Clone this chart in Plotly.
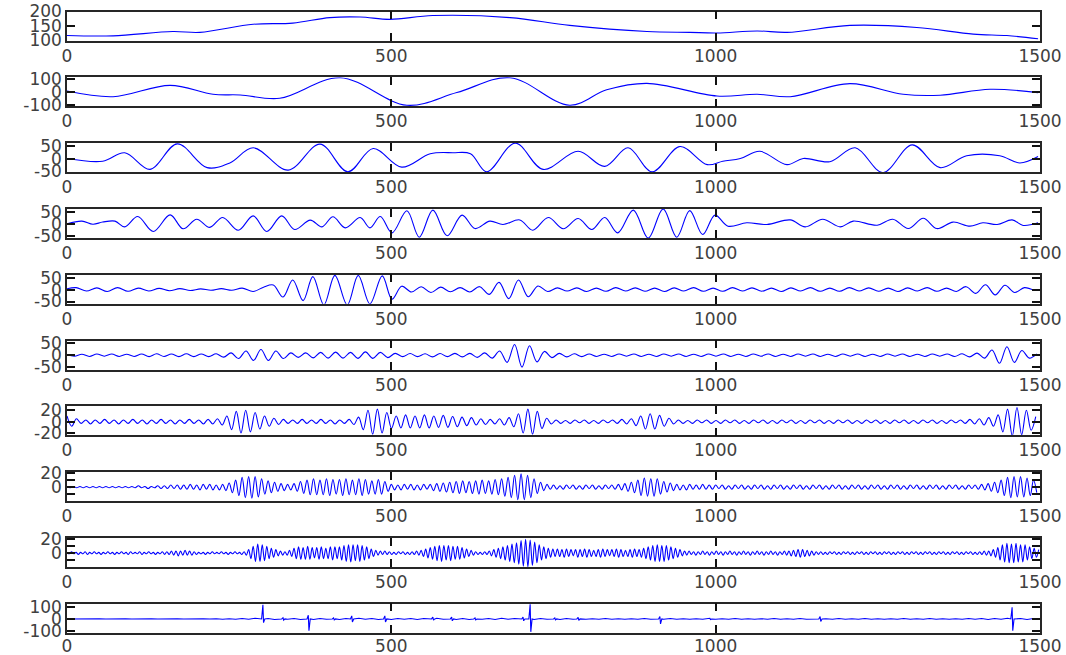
import plotly.graph_objects as go

# ---------------- data ----------------
x_tick_vals = [0, 500, 1000, 1500]

# panel 1 : residual / trend
p1_x = [0, 71, 163, 205, 287, 348, 405, 452, 498, 564, 683, 775, 894, 960, 1002, 1064, 1110, 1207, 1310, 1397, 1449, 1497]
p1_y = [117, 116, 131, 128, 156, 160, 179, 181, 173, 186, 179, 152, 131, 128, 126, 133, 128, 152, 145, 122, 117, 106]

# panel 2
p2_x = [0, 71, 159, 225, 267, 328, 421, 524, 601, 683, 775, 832, 894, 1002, 1064, 1115, 1207, 1289, 1346, 1423, 1497]
p2_y = [6, -37, 49, -19, -24, -49, 107, -102, -6, 107, -102, 15, 64, -32, -19, -37, 62, -19, -26, 19, -6]

# panel 3
p3_x = [0, 55, 89, 128, 170, 216, 251, 287, 341, 390, 433, 472, 516, 560, 595, 622, 647, 691, 734, 788, 829, 865, 902,
        945, 987, 1011, 1038, 1068, 1110, 1135, 1176, 1215, 1258, 1303, 1346, 1387, 1438, 1469, 1497]
p3_y = [1, -10, 24, -43, 60, -36, -17, 44, -46, 59, -53, 41, -34, 20, 24, 20, -53, 63, -43, 30, -31, 44, -53,
        49, -24, -10, 1, 30, -24, 1, -12, 44, -56, 56, -36, 12, 12, -17, 9]

# panel 4
p4_x = [0, 23, 40, 55, 74, 89, 109, 133, 159, 179, 200, 220, 240, 264, 287, 308, 331, 351, 375, 393, 410, 429, 452,
        467, 483, 501, 524, 543, 564, 586, 609, 629, 652, 672, 698, 718, 742, 765, 788, 809, 829, 849, 873, 896,
        919, 940, 960, 980, 999, 1019, 1048, 1079, 1115, 1138, 1165, 1192, 1212, 1249, 1273, 1297, 1320, 1341,
        1366, 1392, 1412, 1434, 1457, 1474, 1497]
p4_y = [0, 11, -2, 7, 11, -13, 30, -32, 37, -21, 19, -15, 26, -27, 33, -32, 33, -24, 15, -13, 29, -17, 26,
        -17, 30, -38, 54, -56, 57, -50, 36, -20, 11, -3, 16, -27, 26, -21, 22, -24, 26, -38, 57, -60,
        62, -56, 55, -45, 36, -10, 4, -3, 16, -13, 19, -13, 11, -6, 19, -20, 23, -20,
        7, -10, 4, -3, 16, -7, 4]

# panel 5 (first half with explicit sample indices, then a regular index grid)
p5_x = [0, 14, 30, 46, 62, 78, 94, 110, 126, 142, 158, 174, 190, 206, 222, 238, 254, 270, 287, 303, 318, 333, 348,
        364, 379, 396, 413, 432, 449, 467, 486, 501]
p5_y = [3, 8, -6, 7, -8, 8, -7, 6, -6, 5, -5, 4, -4, 3, -3, 4, -3, 6, -8, 10, 19, -31, 40,
        -46, 54, -64, 59, -64, 59, -60, 57, -40]
p5b_start, p5b_step = 516, 15
p5b_y = [14, -10, 12, -12, 10, -9, 8, -10, 12, -20, 30, -38, 40, -30, 15, -8,
         7, -6, 7, -8, 6, -7, 8, -6, 7, -7, 6, -8, 7, -6, 8, -7, 6, -7, 8, -6,
         7, -7, 6, -8, 7, -6, 8, -7, 6, -7, 8, -6, 7, -7, 6, -8, 7, -6, 8, -7,
         6, -8, 12, -16, 20, -22, 18, -12, 8, -4]

# panel 6 : successive extrema on a regular index grid
p6_start, p6_step = 0, 11.5
p6_y = [2, -4, 4, -5, 5, -4, 5, -5, 4, -5, 5, -6, 6, -5, 5, -6, 6, -6, 5, -6, 6,
        -8, 10, -14, 18, -22, 24, -22, 18, -14,
        10, -9, 10, -11, 12, -12, 13, -12, 12, -13, 14, -13, 12, -10,
        8, -6, 7, -6, 6, -7, 7, -6, 8, -7, 8, -9, 10, -12,
        18, -30, 45, -50, 40, -28,
        16, -10, 8, -7, 6, -6, 5,
        -5, 4, -5, 5, -4, 5, -5, 4, -5, 5, -4, 5, -5, 4, -5, 5, -4, 5, -5, 4,
        -5, 5, -4, 5, -5, 4, -5, 5, -4, 5, -5, 4, -5, 5, -4, 5, -5, 4, -5, 5,
        -4, 5, -5, 4, -5, 5, -4, 5, -5, 6, -7, 9,
        -12, 22, -34, 36, -30, 20, -12, 6]

# panel 7
p7_start, p7_step = 0, 7.25
p7_y = [10, -8, 5,
        -3, 3, -4, 3, -3, 4, -3, 3, -4, 3, -3, 4, -3, 3, -4, 3, -3, 4, -3, 3, -4, 3, -3, 4, -3, 3, -4, 4, -4, 5,
        -6, 10, -14, 18, -20, 20, -18, 16, -13, 10, -8, 6, -5, 4,
        -3, 3, -3, 4, -3, 3, -3, 4, -3, 3, -4, 3, -3, 4, -5,
        8, -14, 20, -22, 22, -20, 16, -12,
        10, -11, 12, -11, 10, -11, 12, -11, 10, -10, 11, -10, 9, -9, 8, -7, 7, -6, 5, -5, 4, -4, 5, -6, 7, -9,
        14, -20, 22, -22, 18, -12, 6,
        -4, 3, -3, 2, -3, 3, -2, 3, -3, 2, -3, 3, -2, 3, -3, 4, -4, 5,
        -7, 10, -13, 14, -13, 11, -8, 6, -4,
        3, -3, 2, -3, 3, -2, 3, -3, 2, -3, 3, -2, 3, -3, 2, -3, 3, -2, 3, -3,
        2, -3, 3, -2, 3, -3, 2, -3, 3, -2, 3, -3, 2, -3, 3, -2, 3, -3, 2, -3,
        3, -2, 3, -3, 2, -3, 3, -2, 3, -3, 2, -3, 3, -2, 3, -3, 2, -3, 3, -2,
        3, -3, 4, -4, 5, -6, 7, -8,
        12, -18, 22, -25, 25, -23, 20, -15, 9]

# panel 8
p8_start, p8_step = 0, 5
p8_y = [1, -1, 1, -1, 1, -1, 1, -1, 1, -1, 1, -1, 1, -1, 1, -1, 1, -1, 1, -1, 1, -1, 2, -1, 1, -2, 1, -1, 2, -2,
        2, -2, 3, -2, 3, -3, 3, -3, 4, -3, 3, -4, 4, -3, 4, -4, 3, -4, 4, -5,
        6, -8, 10, -12, 14, -15, 15, -16, 15, -14, 12, -10, 9, -8, 7, -6, 5, -5,
        4, -4, 5, -6,
        8, -9, 10, -11, 12, -11, 10, -11, 12, -12, 11, -10, 11, -12, 12, -11, 10, -11, 12, -12, 11, -10, 9, -10,
        11, -10, 8, -6,
        4, -4, 3, -4, 4, -3, 4, -4, 3, -4, 4, -3, 4, -5, 5, -6, 6, -7,
        7, -8, 8, -9, 9, -8, 8, -9, 9, -10, 10, -9, 9, -10, 11, -11, 12, -13, 14, -15,
        17, -18, 19, -18, 17, -15, 12, -9, 7, -5,
        4, -3, 3, -3, 2, -3, 3, -2, 3, -3, 2, -3, 3, -2, 3, -3, 2, -3, 3, -2, 3, -3, 4, -4, 5, -6, 7, -8,
        10, -12, 13, -13, 12, -13, 12, -10, 8, -7, 6, -5,
        4, -4, 3, -4, 4, -3, 3, -3, 4, -3, 3, -3,
        3, -2, 3, -3, 2, -3, 3, -2, 3, -3, 2, -3, 3, -2, 3, -3, 2, -3, 3, -2,
        3, -3, 2, -3, 3, -2, 3, -3, 2, -3, 3, -2, 3, -3, 2, -3, 3, -2, 3, -3,
        2, -3, 3, -2, 3, -3, 2, -3, 3, -2, 3, -3, 2, -3, 3, -2, 3, -3, 2, -3,
        3, -2, 3, -3, 2, -3, 3, -2, 3, -3, 2, -3, 3, -2, 3, -3, 2, -3, 3, -2,
        3, -3, 4, -4, 5, -6, 7, -8,
        10, -12, 14, -15, 15, -14, 15, -14, 13, -12, 10, -8]

# panel 9
p9_start, p9_step = 0, 3.5
p9_y = [1, -1, 2, -1, 1, -2, 1, -1, 2, -2, 1, -1, 2, -1, 1, -2, 1, -1, 2, -1,
        1, -2, 1, -1, 2, -1, 1, -2, 2, -1, 1, -1, 2, -2, 1, -1, 2, -1, 1, -2,
        1, -1, 2, -2, 2, -2, 3, -3, 3, -4, 3, -3, 4, -3, 3, -3, 2, -2, 1, -1,
        1, -2, 1, -1, 2, -1, 1, -1, 2, -1, 1, -2, 1, -1, 2, -1, 1, -2, 2, -3,
        5, -8, 10, -12, 13, -12, 12, -11, 10, -8, 7, -6, 5, -4, 3,
        -3, 2, -3, 4, -5,
        7, -8, 9, -9, 8, -9, 10, -9, 8, -7, 8, -9, 9, -8, 7, -8, 9, -10, 9, -8, 9, -10, 11,
        -12, 12, -13, 12, -11, 12, -12, 11, -10, 9, -8, 6, -5, 4,
        -3, 3, -2, 3, -2, 2,
        -2, 1, -2, 2, -1, 2, -2, 1, -2, 2, -2, 3, -3, 4, -5, 6, -7,
        8, -9, 10, -11, 11, -12, 11, -10, 11, -11, 10, -9, 10, -9, 8, -7, 6, -5, 4, -3,
        2, -2, 1, -2, 2, -2, 3, -4, 5,
        -6, 7, -8, 9, -10, 11, -12, 13, -14, 15, -16,
        18, -19, 20, -20, 19, -18, 16, -14, 12, -10, 9, -8,
        7, -6, 6, -5, 6, -5, 5, -6, 6, -5, 5, -4, 5, -6, 5, -5, 6, -6, 5, -5,
        4, -5, 5, -6, 6, -5, 5, -4, 5, -5, 6, -6, 5, -5, 4, -5, 5, -6, 6, -5,
        5, -6, 7, -8, 9,
        -10, 11, -12, 12, -12, 11, -12, 11, -10, 9, -8, 7, -6, 5, -4, 3, -3,
        3, -2, 2, -3, 2, -2, 3, -2, 2, -3, 2, -2, 3, -2, 2, -3, 2, -2, 3, -2,
        2, -3, 2, -2, 3, -2, 2, -3, 2, -2, 3, -2, 2, -3, 2, -2, 3, -2, 2, -3,
        2, -2, 3, -3, 3, -4, 4,
        -5, 5, -6, 5, -5, 4, -4, 3, -3, 2, -2, 2,
        -2, 1, -2, 2, -1, 2, -2, 1, -2, 2, -1, 2, -2, 1, -2, 2, -1, 2, -2, 1,
        -2, 2, -1, 2, -2, 1, -2, 2, -1, 2, -2, 1, -2, 2, -1, 2, -2, 1, -2, 2,
        -1, 2, -2, 1, -2, 2, -1, 2, -2, 1, -2, 2, -1, 2, -2, 1, -2, 2, -1, 2,
        -2, 1, -2, 2, -1, 2, -2, 1, -2, 2, -2, 3, -3, 3, -4, 5, -6, 8,
        -10, 12, -13, 14, -14, 13, -14, 14, -13, 12, -13, 12, -10, 9, -8, 7, -6, 5]

# panel 10 : small baseline fuzz on a regular index grid, plus isolated spikes
p10_base_start, p10_base_step = 0, 10
p10_base_y = [0, 1, -1, 1, -1, 1, -1, 1, -1, 1, -1, 1, -1, 1, -1, 1, -1, 1, -1, 1, -1, 1, -1, 2, -2, 2,
              -3, 4, -3, 5, -4, 3, -5, 4, -3, 4, -4, 3, -5, 4, -3, 5, -4, 3, -4, 5,
              -3, 4, -4, 3, -5, 4, -3, 4, -5, 3, -4, 5, -3, 4, -4, 3, -5, 4, -3, 4,
              -4, 5, -3, 4, -4, 3, -5, 4, -3, 4, -4, 3, -3, 4, -3,
              2, -2, 3, -2, 2, -3, 2, -2, 3, -2, 2, -2, 3, -2, 2, -3, 2, -2, 3, -2,
              2, -2, 3, -2, 2, -3, 2, -2, 3, -2, 2, -2, 3, -2, 2, -3, 2, -2, 3, -2,
              2, -2, 3, -2, 2, -3, 2, -2, 3, -2, 2, -2, 3, -2, 2, -3, 2, -2, 3, -2,
              3, -4, 4, -3, 5, -4, 3, -4, 3, -2]
p10_spike_x = [302, 333, 372, 411, 439, 490, 564, 593, 629, 703, 714, 752, 788, 914, 991, 1161, 1457]
p10_spike_up = [115, 10, 30, 8, 25, 25, 15, 15, 8, 15, 120, 8, 12, 20, 5, 20, 95]
p10_spike_dn = [-30, -10, -95, -8, -25, -25, -10, -15, -8, -15, -105, -8, -12, -40, -5, -20, -95]

y_ranges = [[100, 200], [-110, 110], [-54, 63], [-59, 62], [-59, 62], [-60, 62],
            [-24, 27], [-20, 21.5], [-20, 22], [-112, 124]]
y_tick_vals = [[100, 150, 200], [-100, 0, 100], [-50, 0, 50], [-50, 0, 50], [-50, 0, 50],
               [-50, 0, 50], [-20, 0, 20], [-10, 0, 10, 20], [-10, 0, 10, 20], [-100, 0, 100]]
y_tick_text = [["100", "150", "200"], ["-100", "0", "100"], ["-50", "0", "50"], ["-50", "0", "50"],
               ["-50", "0", "50"], ["-50", "0", "50"], ["-20", "0", "20"], ["", "0", "", "20"],
               ["", "0", "", "20"], ["-100", "0", "100"]]

# ---------------- build series ----------------
def grid(start, step, vals):
    return [start + step * k for k in range(len(vals))]

series = [
    (p1_x, p1_y),
    (p2_x, p2_y),
    (p3_x, p3_y),
    (p4_x, p4_y),
    (p5_x + grid(p5b_start, p5b_step, p5b_y), p5_y + p5b_y),
    (grid(p6_start, p6_step, p6_y), p6_y),
    (grid(p7_start, p7_step, p7_y), p7_y),
    (grid(p8_start, p8_step, p8_y), p8_y),
    (grid(p9_start, p9_step, p9_y), p9_y),
]

# panel 10: merge baseline fuzz with the spike events
pts = [(bx, by) for bx, by in zip(grid(p10_base_start, p10_base_step, p10_base_y), p10_base_y)
       if all(abs(bx - sx) > 4 for sx in p10_spike_x)]
for sx, su, sd in zip(p10_spike_x, p10_spike_up, p10_spike_dn):
    pts += [(sx - 2, 0), (sx, su), (sx + 1, sd), (sx + 3, 0)]
pts.sort()
s10_x = [p[0] for p in pts]
s10_y = [p[1] for p in pts]

# ---------------- figure ----------------
W, H = 1066, 655
ML, MR, MT, MB = 67, 26, 11, 22
plot_h = H - MT - MB
panel_h = 29
pitch = 65.8

fig = go.Figure()
font = dict(family="DejaVu Sans, sans-serif", size=17, color="#404040")

for i in range(10):
    ax = "" if i == 0 else str(i + 1)
    top = 0.5 + pitch * i
    y1 = 1 - top / plot_h
    y0 = 1 - (top + panel_h) / plot_h
    if i < 9:
        xs, ys = series[i]
        fig.add_trace(go.Scatter(x=xs, y=ys, mode="lines",
                                 line=dict(color="#0000ff", width=1.1, shape="spline", smoothing=1.0),
                                 xaxis="x" + ax, yaxis="y" + ax, showlegend=False, hoverinfo="skip"))
    else:
        fig.add_trace(go.Scatter(x=s10_x, y=s10_y, mode="lines",
                                 line=dict(color="#0000ff", width=1.1),
                                 xaxis="x" + ax, yaxis="y" + ax, showlegend=False, hoverinfo="skip"))
    common = dict(showline=True, linecolor="#262626", linewidth=1.5, mirror="ticks",
                  ticks="inside", ticklen=8, tickwidth=2, tickcolor="#111111",
                  showgrid=False, zeroline=False, tickfont=font, fixedrange=True,
                  automargin=False)
    fig.layout["xaxis" + ax] = dict(domain=[0, 1], anchor="y" + ax, range=[0, 1500],
                                    tickmode="array", tickvals=x_tick_vals,
                                    ticktext=[str(v) for v in x_tick_vals],
                                    ticklabelstandoff=(-3 if i == 9 else -1), **common)
    fig.layout["yaxis" + ax] = dict(domain=[y0, y1], anchor="x" + ax, range=y_ranges[i],
                                    tickmode="array", tickvals=y_tick_vals[i],
                                    ticktext=y_tick_text[i], **common)

fig.update_layout(width=W, height=H, margin=dict(l=ML, r=MR, t=MT, b=MB, autoexpand=False),
                  paper_bgcolor="white", plot_bgcolor="white", showlegend=False)

fig.write_html("out.html")
